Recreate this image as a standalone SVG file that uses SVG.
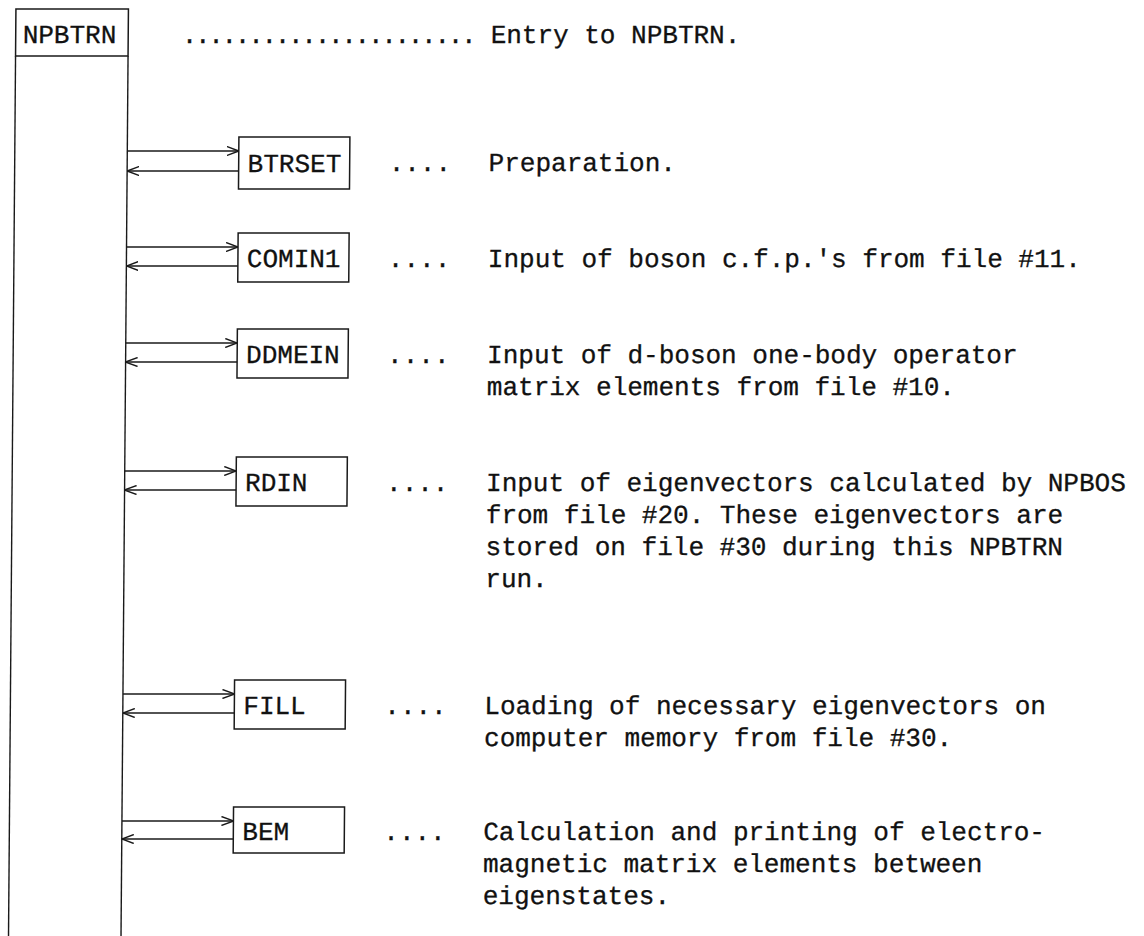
<svg xmlns="http://www.w3.org/2000/svg" width="1144" height="936" viewBox="0 0 1144 936">
<style>
.box{fill:none;stroke:#1a1a1a;stroke-width:1.5}
.ln{fill:none;stroke:#1a1a1a;stroke-width:1.4}
text{font-family:"Liberation Mono","DejaVu Sans Mono",monospace;font-size:26px;fill:#111;stroke:#111;stroke-width:0.3}
.dots{letter-spacing:-2.3px}
</style>
<defs>
<marker id="ah" viewBox="0 0 12 10" refX="12" refY="5" markerWidth="12" markerHeight="10" orient="auto" markerUnits="userSpaceOnUse">
<path d="M0,0.5 L12,5 L0,9.5" fill="none" stroke="#1a1a1a" stroke-width="1.4"/>
</marker>
</defs>
<rect width="1144" height="936" fill="#fff"/>
<g transform="matrix(1 0 -0.008 1 0 0)">
<g id="npbtrn">
<rect class="box" x="16" y="9" width="112.5" height="47"/>
<line class="ln" x1="16" y1="56" x2="16" y2="936"/>
<line class="ln" x1="128.5" y1="56" x2="128.5" y2="936"/>
<text x="23" y="43">NPBTRN</text>
<text class="dots" x="182" y="43">......................</text>
<text x="491" y="43">Entry to NPBTRN.</text>
</g>
<g id="connectors">
<line class="ln" x1="128.5" y1="151" x2="240" y2="151" marker-end="url(#ah)"/>
<line class="ln" x1="240" y1="171" x2="128.5" y2="171" marker-end="url(#ah)"/>
<line class="ln" x1="128.5" y1="247" x2="240" y2="247" marker-end="url(#ah)"/>
<line class="ln" x1="240" y1="266" x2="128.5" y2="266" marker-end="url(#ah)"/>
<line class="ln" x1="128.5" y1="343" x2="240" y2="343" marker-end="url(#ah)"/>
<line class="ln" x1="240" y1="362" x2="128.5" y2="362" marker-end="url(#ah)"/>
<line class="ln" x1="128.5" y1="471" x2="240" y2="471" marker-end="url(#ah)"/>
<line class="ln" x1="240" y1="490" x2="128.5" y2="490" marker-end="url(#ah)"/>
<line class="ln" x1="128.5" y1="694" x2="240" y2="694" marker-end="url(#ah)"/>
<line class="ln" x1="240" y1="713" x2="128.5" y2="713" marker-end="url(#ah)"/>
<line class="ln" x1="128.5" y1="821" x2="240" y2="821" marker-end="url(#ah)"/>
<line class="ln" x1="240" y1="839" x2="128.5" y2="839" marker-end="url(#ah)"/>
</g>
<g id="btrset">
<rect class="box" x="240" y="137" width="111" height="52"/>
<text x="249" y="172">BTRSET</text>
<text x="390" y="171">....</text>
<text x="490" y="171">Preparation.</text>
</g>
<g id="comin1">
<rect class="box" x="240" y="233" width="111" height="49"/>
<text x="249" y="267">COMIN1</text>
<text x="390" y="267">....</text>
<text x="490" y="267">Input of boson c.f.p.'s from file #11.</text>
</g>
<g id="ddmein">
<rect class="box" x="240" y="329" width="111" height="49"/>
<text x="249" y="363">DDMEIN</text>
<text x="390" y="363">....</text>
<text x="490" y="363">Input of d-boson one-body operator</text>
<text x="490" y="395">matrix elements from file #10.</text>
</g>
<g id="rdin">
<rect class="box" x="240" y="457" width="111" height="49"/>
<text x="249" y="491">RDIN</text>
<text x="390" y="491">....</text>
<text x="490" y="491">Input of eigenvectors calculated by NPBOS</text>
<text x="490" y="523">from file #20.  These eigenvectors are</text>
<text x="490" y="555">stored on file #30 during this NPBTRN</text>
<text x="490" y="587">run.</text>
</g>
<g id="fill">
<rect class="box" x="240" y="680" width="111" height="49"/>
<text x="249" y="714">FILL</text>
<text x="390" y="714">....</text>
<text x="490" y="714">Loading of necessary eigenvectors on</text>
<text x="490" y="746">computer memory from file #30.</text>
</g>
<g id="bem">
<rect class="box" x="240" y="807" width="111" height="46"/>
<text x="249" y="840">BEM</text>
<text x="390" y="840">....</text>
<text x="490" y="840">Calculation and printing of electro-</text>
<text x="490" y="872">magnetic matrix elements between</text>
<text x="490" y="904">eigenstates.</text>
</g>
</g>
</svg>
